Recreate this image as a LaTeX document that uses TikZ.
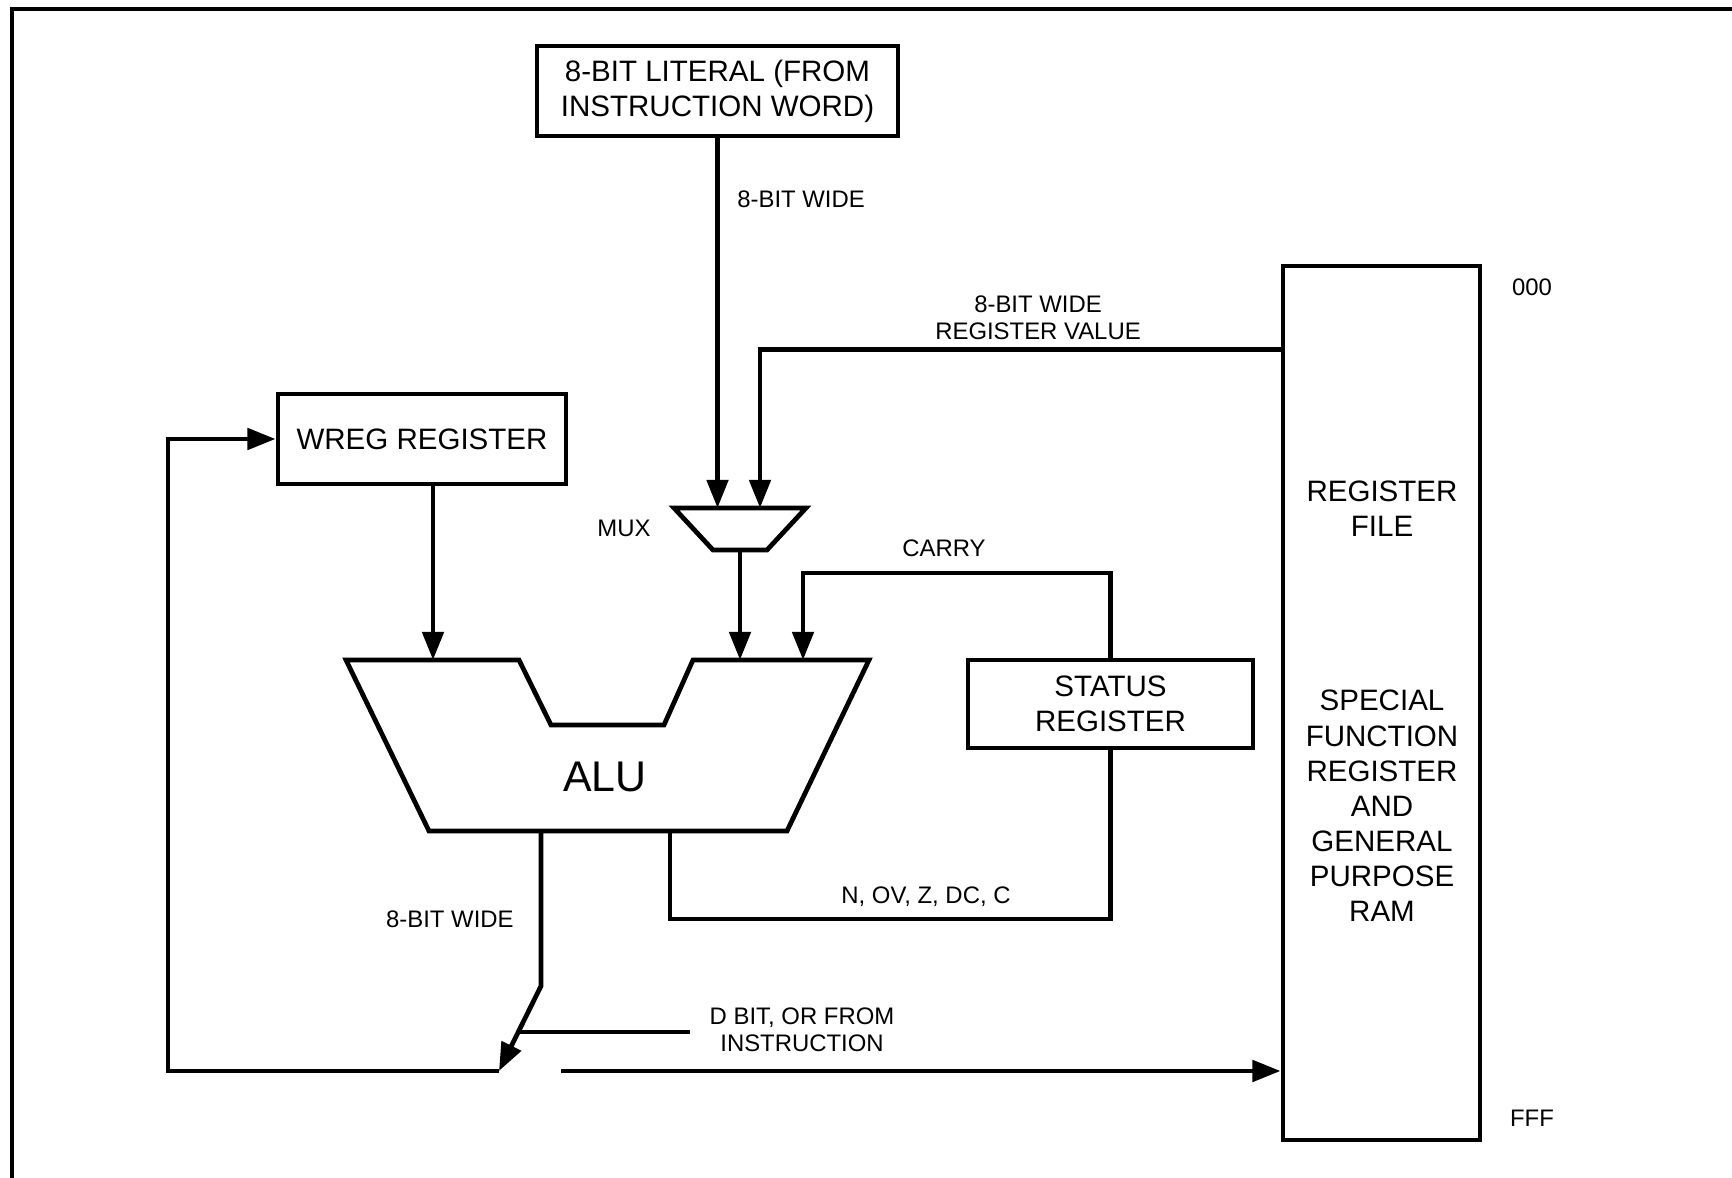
\documentclass[tikz,border=0pt]{standalone}
\usepackage{fontspec}
\setmainfont{Liberation Sans}
\usetikzlibrary{arrows.meta}

\begin{document}
\begin{tikzpicture}[line width=1.35pt, >={Triangle[length=8pt,width=6pt]},
  blk/.style={draw, line width=1.4pt, align=center, inner sep=0pt, font=\fontsize{8.4}{10}\selectfont},
  lbl/.style={font=\fontsize{6.8}{7.7}\selectfont, align=center, inner sep=0pt}]
\useasboundingbox (0,0) rectangle (17.32,11.78);
% page frame
\draw (0.12,0) -- (0.12,11.69) -- (17.32,11.69);
% blocks
\node[blk, minimum width=3.61cm, minimum height=0.90cm] (lit) at (7.175,10.87) {8-BIT LITERAL (FROM\\INSTRUCTION WORD)};
\node[blk, minimum width=2.88cm, minimum height=0.90cm] (wreg) at (4.22,7.39) {WREG REGISTER};
\node[blk, minimum width=2.85cm, minimum height=0.88cm] (status) at (11.105,4.74) {STATUS\\REGISTER};
\node[blk, minimum width=1.97cm, minimum height=8.74cm] (rf) at (13.815,4.75) {};
\node[blk, draw=none] (rfname) at (13.82,6.69) {REGISTER\\FILE};
\node[blk, draw=none] (rfram) at (13.82,3.72) {SPECIAL\\FUNCTION\\REGISTER\\AND\\GENERAL\\PURPOSE\\RAM};
\node[lbl] (adrlo) at (15.32,8.91) {000};
\node[lbl] (adrhi) at (15.32,0.60) {FFF};
% mux
\draw (6.74,6.70) -- (8.06,6.70) -- (7.67,6.28) -- (7.13,6.28) -- cycle;
\coordinate (muxtop) at (7.40,6.70);
\coordinate (muxB) at (7.60,6.70);
\coordinate (muxout) at (7.40,6.28);
\node[lbl] (muxlbl) at (6.24,6.50) {MUX};
% alu
\coordinate (alu1) at (3.46,5.18);
\coordinate (cin) at (8.03,5.18);
\coordinate (aluout) at (5.41,3.47);
\coordinate (aluflag) at (6.70,3.47);
\draw (alu1) -- (5.19,5.18) -- (5.51,4.53) -- (6.64,4.53) -- (6.93,5.18) -- (8.69,5.18)
  -- (7.87,3.47) -- (4.29,3.47) -- cycle;
\node[font=\fontsize{12.2}{14}\selectfont] (alu) at (6.05,4.01) {ALU};
% data paths
\draw[->] (lit) -- (lit |- muxtop);
\node[lbl, anchor=west] (litw) at (7.35,9.79) {8-BIT WIDE};
\draw[->] ([yshift=-0.86cm]rf.north west) -| (muxB);
\node[lbl] (rvlbl) at (10.38,8.60) {8-BIT WIDE\\REGISTER VALUE};
\draw[->] ([xshift=0.11cm]wreg.south) -- ([xshift=0.11cm]wreg.south |- alu1);
\draw[->] (muxout) -- (muxout |- alu1);
\draw[->] (status.north) |- ([yshift=0.87cm]cin) -- (cin);
\node[lbl] (carrylbl) at (9.44,6.30) {CARRY};
\draw (aluflag) -- ++(0,-0.88) -| (status.south);
\node[lbl] (flaglbl) at (9.26,2.81) {N, OV, Z, DC, C};
% destination select
\coordinate (sw) at (4.99,1.07);
\coordinate (dtap) at (5.18,1.46);
\coordinate (fb) at (1.68,1.07);
\coordinate (swout) at (5.61,1.07);
\draw[->] (aluout) -- ++(0,-1.55) -- (sw);
\node[lbl, anchor=east] (aluw) at (5.16,2.59) {8-BIT WIDE};
\draw (dtap) -- ++(1.72,0);
\node[lbl] (dlbl) at (8.02,1.485) {D BIT, OR FROM\\INSTRUCTION};
\draw[->] (sw) -- (fb) |- (wreg.west);
\draw[->] (swout) -- (swout -| rf.west);
\end{tikzpicture}
\end{document}
